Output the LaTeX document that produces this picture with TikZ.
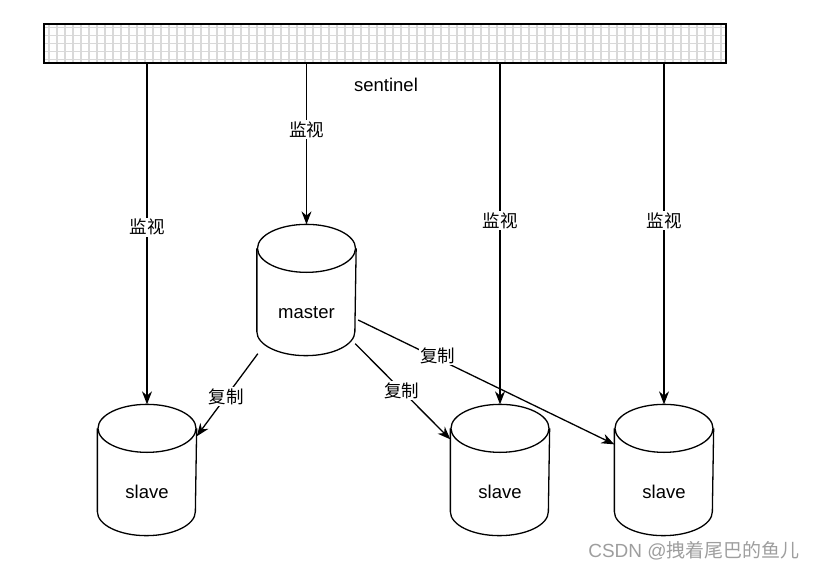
\documentclass[tikz,border=0pt]{standalone}
\usepackage{fontspec}
\setmainfont{Liberation Sans}
\newfontfamily\cjk{Noto Sans CJK SC}
\usetikzlibrary{arrows.meta,calc}
\begin{document}
\begin{tikzpicture}[x=1pt,y=-1pt,
  line width=1.3pt,
  db/.style={minimum width=98pt, minimum height=130pt, inner sep=0pt},
  dbtext/.style={font=\fontsize{18.5}{20}\selectfont, inner sep=0pt},
  lbl/.style={fill=white, font=\cjk\fontsize{17.5}{19}\selectfont, inner sep=1.5pt},
  arr/.style={-{Stealth[length=13pt,width=10pt]}},
  bar/.style={draw, minimum width=682pt, minimum height=39pt, inner sep=0pt,
    path picture={\draw[black!15, line width=1.2pt, step=8pt]
      (path picture bounding box.south west) grid (path picture bounding box.north east);}}
]
\useasboundingbox (0,0) rectangle (815,571);

\node[bar] (sen) at (385,43.5) {};
\node[dbtext] (st) at (386,85) {sentinel};

\node[db] (m) at (306.5,290) {};
\node[db] (s1) at (147,470) {};
\node[db] (s2) at (500,470) {};
\node[db] (s3) at (664,470) {};

\node[dbtext] (mt) at ($(m.center)+(0,23)$) {master};
\node[dbtext] (t1) at ($(s1.center)+(0,22)$) {slave};
\node[dbtext] (t2) at ($(s2.center)+(0,22)$) {slave};
\node[dbtext] (t3) at ($(s3.center)+(0,22)$) {slave};

\foreach \n in {m,s1,s2,s3}{
  \draw ($(\n.north west)+(0,24)$) -- ($(\n.south west)+(0,-24)$)
    arc[start angle=180, end angle=0, x radius=49, y radius=24]
    -- ($(\n.north east)+(0,24)$);
  \draw ($(\n.north)+(0,24)$) ellipse[x radius=49, y radius=24];
}

\draw[arr] (sen.south -| s1.north) -- node[lbl, pos=0.48] {监视} (s1.north);
\draw[arr] (sen.south -| m.north) -- node[lbl, pos=0.41] {监视} (m.north);
\draw[arr] (sen.south -| s2.north) -- node[lbl, pos=0.46] {监视} (s2.north);
\draw[arr] (sen.south -| s3.north) -- node[lbl, pos=0.46] {监视} (s3.north);

\draw[arr] ($(m.south west)+(1,-2)$) -- node[lbl, pos=0.52] {复制} ($(s1.north east)+(0,32)$);
\draw[arr] ($(m.south east)+(-1,-12)$) -- node[lbl, pos=0.49] {复制} ($(s2.north west)+(0,35)$);
\draw[arr] ($(m.east)+(2,30)$) -- node[lbl, pos=0.31, yshift=3pt] {复制} ($(s3.north west)+(0,40)$);

\node[text=black!38, font=\fontsize{19}{21}\selectfont, inner sep=0pt] (wm) at (694,551) {CSDN @{\cjk 拽着尾巴的鱼儿}};
\end{tikzpicture}
\end{document}
